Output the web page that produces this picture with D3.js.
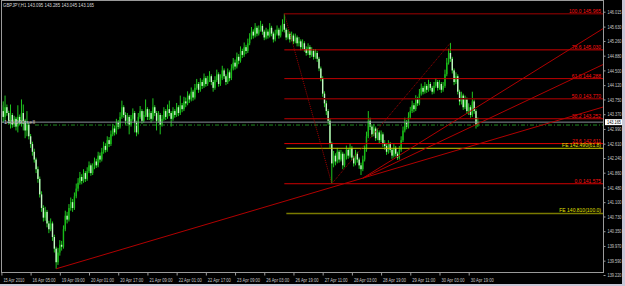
<!DOCTYPE html>
<html>
<head>
<meta charset="utf-8">
<script src="https://cdn.jsdelivr.net/npm/d3@7"></script>
<style>
  html, body { margin: 0; padding: 0; background: #000; }
  svg { display: block; }
  text { font-family: "Liberation Sans", Arial, sans-serif; }
</style>
</head>
<body>
<div id="chart"></div>
<script>
// GBPJPY H1 bars, 15 Apr 13:00 .. 30 Apr (bar index 0..261)
const opens = [
  143.60,143.45,143.30,143.55,143.40,143.20,143.35,143.10,143.25,143.05,
  143.30,143.15,143.40,143.20,142.95,143.10,142.80,142.60,142.40,142.20,
  141.95,141.70,141.30,140.95,140.70,140.85,140.55,140.40,140.55,140.20,
  139.90,139.55,139.80,140.00,139.95,140.40,140.75,140.65,140.95,141.10,
  140.95,141.25,141.45,141.60,141.75,141.65,141.85,141.70,141.90,142.05,
  141.85,142.00,142.15,142.05,142.30,142.20,142.40,142.55,142.45,142.70,
  142.60,142.85,143.00,142.90,143.15,143.05,143.30,143.55,143.35,143.20,
  143.30,143.10,143.25,143.40,143.15,142.90,143.30,143.45,143.20,143.35,
  143.50,143.30,143.40,143.25,143.55,143.40,143.20,143.35,143.10,143.25,
  143.45,143.30,143.50,143.40,143.25,143.45,143.35,143.55,143.40,143.60,
  143.50,143.70,143.65,143.85,143.75,143.95,143.80,144.05,144.15,144.00,
  144.20,144.10,144.30,144.15,144.25,144.35,144.20,144.05,144.25,144.40,
  144.15,144.30,144.50,144.35,144.20,144.45,144.30,144.55,144.70,144.60,
  144.85,144.75,145.00,144.90,145.10,145.00,145.20,145.35,145.50,145.40,
  145.60,145.45,145.55,145.65,145.50,145.35,145.50,145.40,145.60,145.45,
  145.30,145.45,145.55,145.40,145.55,145.70,145.55,145.35,145.45,145.30,
  145.40,145.25,145.35,145.20,145.25,145.10,145.20,145.05,144.95,145.10,
  144.90,145.00,144.85,144.95,144.80,144.55,144.30,143.90,143.65,143.45,
  143.20,142.60,142.10,142.30,142.15,142.40,142.20,142.35,142.05,142.25,
  142.45,142.30,142.50,142.25,142.10,142.35,142.20,142.05,141.95,142.20,
  142.45,142.80,143.20,143.05,142.85,143.00,142.75,142.90,142.70,142.85,
  142.60,142.55,142.40,142.60,142.45,142.30,142.50,142.35,142.25,142.45,
  142.70,142.95,143.15,143.05,143.30,143.45,143.60,143.50,143.75,143.65,
  143.90,144.05,143.95,144.10,144.00,144.15,144.05,143.95,144.10,144.20,
  144.05,144.15,144.00,144.10,144.40,144.70,144.95,144.80,144.50,144.20,
  144.35,143.95,143.70,143.85,143.55,143.75,143.45,143.55,143.35,143.70,
  143.45,143.095
];
const highs = [
  143.95,143.70,143.85,143.62,143.46,143.62,143.40,143.33,143.30,143.60,
  143.36,143.75,143.62,143.25,143.45,143.14,142.86,142.66,142.48,142.25,
  142.02,141.76,141.38,141.02,140.98,140.90,140.62,140.68,140.60,140.26,
  139.95,139.92,140.12,140.10,140.50,140.88,140.85,141.05,141.22,141.18,
  141.35,141.58,141.72,141.88,141.82,141.95,141.90,142.00,142.15,142.10,
  142.10,142.25,142.22,142.40,142.38,142.50,142.66,142.62,142.80,142.78,
  142.95,143.12,143.08,143.25,143.22,143.42,143.72,143.60,143.42,143.40,
  143.35,143.35,143.52,143.45,143.20,143.40,143.58,143.50,143.45,143.75,
  143.55,143.50,143.45,143.78,143.60,143.45,143.45,143.40,143.35,143.55,
  143.50,143.62,143.72,143.45,143.55,143.50,143.66,143.60,143.85,143.66,
  143.82,143.80,143.96,143.90,144.06,144.00,144.15,144.28,144.20,144.30,
  144.26,144.42,144.35,144.36,144.48,144.40,144.25,144.35,144.52,144.45,
  144.40,144.62,144.55,144.40,144.55,144.50,144.66,144.82,144.78,144.96,
  144.92,145.12,145.06,145.22,145.16,145.32,145.46,145.62,145.56,145.72,
  145.65,145.66,145.78,145.70,145.55,145.60,145.56,145.72,145.65,145.50,
  145.55,145.66,145.60,145.66,145.82,145.965,145.60,145.55,145.50,145.50,
  145.45,145.45,145.40,145.36,145.30,145.30,145.25,145.12,145.20,145.15,
  145.10,145.05,145.05,145.00,144.85,144.60,144.35,143.96,143.72,143.50,
  143.25,142.66,142.42,142.36,142.50,142.45,142.45,142.40,142.35,142.56,
  142.50,142.62,142.55,142.30,142.45,142.40,142.25,142.12,142.30,142.56,
  142.92,143.45,143.28,143.10,143.12,143.05,143.00,142.95,142.95,142.90,
  142.70,142.60,142.70,142.65,142.50,142.60,142.55,142.40,142.55,142.80,
  143.05,143.28,143.22,143.42,143.56,143.72,143.66,143.86,143.82,144.02,
  144.16,144.10,144.20,144.15,144.26,144.20,144.10,144.20,144.30,144.25,
  144.25,144.20,144.20,144.52,144.82,145.06,145.21,144.85,144.55,144.45,
  144.40,144.00,143.95,143.90,143.85,143.80,143.65,143.60,143.95,143.75,
  143.50,143.285
];
const lows = [
  143.30,143.15,143.20,143.33,143.10,143.00,143.02,143.04,142.95,142.90,
  143.08,143.05,142.95,142.75,142.80,142.72,142.50,142.30,142.12,141.85,
  141.60,141.22,140.85,140.60,140.62,140.45,140.30,140.35,140.10,139.80,
  139.38,139.48,139.72,139.85,139.90,140.35,140.55,140.60,140.88,140.85,
  140.90,141.20,141.38,141.55,141.56,141.60,141.62,141.65,141.85,141.78,
  141.80,141.95,141.98,142.00,142.12,142.15,142.35,142.38,142.40,142.52,
  142.55,142.80,142.82,142.85,142.98,143.00,143.25,143.28,143.10,143.12,
  142.85,143.05,143.20,142.90,142.80,142.85,143.25,143.12,143.15,143.30,
  143.22,143.22,143.15,143.20,143.32,142.95,143.15,142.85,143.05,143.20,
  143.22,143.25,143.32,143.05,143.20,143.28,143.30,143.32,143.35,143.42,
  143.45,143.55,143.60,143.66,143.70,143.72,143.75,144.00,143.92,143.95,
  144.02,144.05,144.08,144.10,144.20,144.12,143.95,144.00,144.20,144.08,
  144.10,144.25,144.28,144.12,144.15,144.22,144.25,144.50,144.52,144.55,
  144.66,144.70,144.82,144.85,144.92,144.95,145.15,145.30,145.32,145.35,
  145.38,145.40,145.50,145.42,145.28,145.30,145.32,145.35,145.38,145.22,
  145.25,145.40,145.32,145.35,145.50,145.48,145.28,145.30,145.22,145.25,
  145.18,145.20,145.12,145.12,145.02,145.05,144.98,144.88,144.90,144.82,
  144.85,144.78,144.80,144.72,144.48,144.22,143.82,143.55,143.35,143.10,
  142.50,141.575,142.00,142.05,142.10,142.12,142.15,141.95,142.00,142.20,
  142.22,142.25,142.18,142.02,142.05,142.12,141.96,141.80,141.90,142.15,
  142.40,142.75,142.96,142.78,142.80,142.68,142.70,142.62,142.65,142.52,
  142.45,142.32,142.35,142.38,142.22,142.25,142.28,142.19,142.20,142.40,
  142.65,142.90,142.98,143.00,143.25,143.40,143.42,143.45,143.58,143.60,
  143.85,143.88,143.90,143.92,143.95,143.98,143.88,143.90,144.05,143.98,
  144.00,143.92,143.95,144.05,144.35,144.65,144.72,144.42,144.12,144.15,
  143.88,143.60,143.62,143.48,143.50,143.38,143.35,143.28,143.30,143.38,
  143.00,143.045
];
const closes = [
  143.45,143.30,143.55,143.40,143.20,143.35,143.10,143.25,143.05,143.30,
  143.15,143.40,143.20,142.95,143.10,142.80,142.60,142.40,142.20,141.95,
  141.70,141.30,140.95,140.70,140.85,140.55,140.40,140.55,140.20,139.90,
  139.55,139.80,140.00,139.95,140.40,140.75,140.65,140.95,141.10,140.95,
  141.25,141.45,141.60,141.75,141.65,141.85,141.70,141.90,142.05,141.85,
  142.00,142.15,142.05,142.30,142.20,142.40,142.55,142.45,142.70,142.60,
  142.85,143.00,142.90,143.15,143.05,143.30,143.55,143.35,143.20,143.30,
  143.10,143.25,143.40,143.15,142.90,143.30,143.45,143.20,143.35,143.50,
  143.30,143.40,143.25,143.55,143.40,143.20,143.35,143.10,143.25,143.45,
  143.30,143.50,143.40,143.25,143.45,143.35,143.55,143.40,143.60,143.50,
  143.70,143.65,143.85,143.75,143.95,143.80,144.05,144.15,144.00,144.20,
  144.10,144.30,144.15,144.25,144.35,144.20,144.05,144.25,144.40,144.15,
  144.30,144.50,144.35,144.20,144.45,144.30,144.55,144.70,144.60,144.85,
  144.75,145.00,144.90,145.10,145.00,145.20,145.35,145.50,145.40,145.60,
  145.45,145.55,145.65,145.50,145.35,145.50,145.40,145.60,145.45,145.30,
  145.45,145.55,145.40,145.55,145.70,145.55,145.35,145.45,145.30,145.40,
  145.25,145.35,145.20,145.25,145.10,145.20,145.05,144.95,145.10,144.90,
  145.00,144.85,144.95,144.80,144.55,144.30,143.90,143.65,143.45,143.20,
  142.60,142.10,142.30,142.15,142.40,142.20,142.35,142.05,142.25,142.45,
  142.30,142.50,142.25,142.10,142.35,142.20,142.05,141.95,142.20,142.45,
  142.80,143.20,143.05,142.85,143.00,142.75,142.90,142.70,142.85,142.60,
  142.55,142.40,142.60,142.45,142.30,142.50,142.35,142.25,142.45,142.70,
  142.95,143.15,143.05,143.30,143.45,143.60,143.50,143.75,143.65,143.90,
  144.05,143.95,144.10,144.00,144.15,144.05,143.95,144.10,144.20,144.05,
  144.15,144.00,144.10,144.40,144.70,144.95,144.80,144.50,144.20,144.35,
  143.95,143.70,143.85,143.55,143.75,143.45,143.55,143.35,143.70,143.45,
  143.095,143.165
];

// axis labels
const priceTicks = [146.015, 145.630, 145.260, 144.880, 144.500, 144.120, 143.750, 143.370,
  142.990, 142.610, 142.240, 141.860, 141.480, 141.100, 140.730, 140.350, 139.970, 139.590, 139.220];
const timeLabels = ["15 Apr 2010", "16 Apr 05:00", "19 Apr 09:00", "20 Apr 01:00", "20 Apr 17:00",
  "21 Apr 09:00", "22 Apr 01:00", "22 Apr 17:00", "23 Apr 09:00", "26 Apr 03:00", "26 Apr 19:00",
  "27 Apr 11:00", "28 Apr 03:00", "28 Apr 19:00", "29 Apr 11:00", "30 Apr 03:00", "30 Apr 19:00"];
const timeBars = [0, 16, 32, 48, 64, 80, 96, 112, 128, 144, 160, 176, 192, 208, 224, 240, 256];

// fibo retracement (high bar 155 -> low bar 181)
const fibLevels = ["100.0", "78.6", "61.8", "50.0", "38.2", "23.6", "0.0"];
const fibPrices = [145.965, 145.030, 144.288, 143.770, 143.252, 142.611, 141.575];
const fibStart = 155;
// fibo expansion
const feLabels = ["FE 142.490(61.8)", "FE 140.810(100.0)"];
const fePrices = [142.490, 140.810];

// trend lines: [bar0, price0, bar1, price1]
const trendLines = [
  [30, 139.38, 330, 143.56],
  [198, 141.72, 330, 145.59],
  [198, 141.72, 330, 144.66]
];
const dottedLines = [
  [155, 145.965, 181, 141.575],
  [181, 141.575, 246, 145.21]
];

const title = "GBPJPY,H1  143.095 143.285 143.045 143.165";
const bidPrice = 143.165;
const orderPrice = 143.09;
const orderLabel = "143.090 sell";

const W = 625, H = 286;
const plot = { left: 1.5, top: 0.5, right: 603.5, bottom: 272.5 };

const svg = d3.select("#chart").append("svg")
  .attr("width", W).attr("height", H)
  .style("background", "#000");

const x = d3.scaleLinear().domain([0, 256]).range([1.4, 468.7]);
const y = d3.scaleLinear().domain([139.22, 146.015]).range([275, 11.7]);

svg.append("clipPath").attr("id", "plotClip").append("rect")
  .attr("x", plot.left).attr("y", plot.top)
  .attr("width", plot.right - plot.left).attr("height", plot.bottom - plot.top);

const g = svg.append("g").attr("clip-path", "url(#plotClip)");

// candles
const bars = d3.range(closes.length);
g.selectAll(".wick").data(bars).join("line")
  .attr("x1", i => x(i)).attr("x2", i => x(i))
  .attr("y1", i => y(highs[i])).attr("y2", i => y(lows[i]))
  .attr("stroke", "#22dc22").attr("stroke-width", 0.9);

g.selectAll(".body").data(bars).join("rect")
  .attr("x", i => x(i) - 0.7)
  .attr("width", 1.4)
  .attr("y", i => y(Math.max(opens[i], closes[i])))
  .attr("height", i => Math.max(0.6, Math.abs(y(opens[i]) - y(closes[i]))))
  .attr("fill", i => closes[i] >= opens[i] ? "#18bc18" : "#c6f7c6");

// bid line and order line
g.append("line")
  .attr("x1", plot.left).attr("x2", plot.right)
  .attr("y1", y(bidPrice)).attr("y2", y(bidPrice))
  .attr("stroke", "#8a8f99").attr("stroke-width", 1);

g.append("line")
  .attr("x1", 35).attr("x2", plot.right)
  .attr("y1", y(orderPrice)).attr("y2", y(orderPrice))
  .attr("stroke", "#1f8a1f").attr("stroke-width", 1)
  .attr("stroke-dasharray", "4,2,1,2");

g.append("text")
  .attr("x", 4).attr("y", y(bidPrice) + 1.5)
  .attr("font-size", 5).attr("fill", "#c8c8c8")
  .attr("textLength", 31).attr("lengthAdjust", "spacingAndGlyphs")
  .text(orderLabel);

// fibo levels
const fibColors = ["#6a0000", "#d00000", "#c00000", "#7a0000", "#c00000", "#e00000", "#d00000"];
const fibWidths = [1.5, 1, 1, 1.5, 1, 1, 1];
g.selectAll(".fib").data(fibPrices).join("line")
  .attr("x1", x(fibStart)).attr("x2", plot.right)
  .attr("y1", d => y(d)).attr("y2", d => y(d))
  .attr("stroke", (d, i) => fibColors[i]).attr("stroke-width", (d, i) => fibWidths[i]);

g.selectAll(".fibLabel").data(fibPrices).join("text")
  .attr("x", 601).attr("y", d => y(d) - 1)
  .attr("text-anchor", "end").attr("font-size", 5).attr("fill", "#ff1010")
  .text((d, i) => fibLevels[i] + " " + d.toFixed(3));

const feColors = ["#c8c800", "#7a7a00"];
g.selectAll(".fe").data(fePrices).join("line")
  .attr("x1", x(fibStart) + 2).attr("x2", plot.right)
  .attr("y1", d => y(d)).attr("y2", d => y(d))
  .attr("stroke", (d, i) => feColors[i]).attr("stroke-width", (d, i) => i ? 1.5 : 1);

g.selectAll(".feLabel").data(fePrices).join("text")
  .attr("x", 601).attr("y", d => y(d) - 1)
  .attr("text-anchor", "end").attr("font-size", 5).attr("fill", "#e0e000")
  .text((d, i) => feLabels[i]);

// trend lines
g.selectAll(".trend").data(trendLines).join("line")
  .attr("x1", d => x(d[0])).attr("y1", d => y(d[1]))
  .attr("x2", d => x(d[2])).attr("y2", d => y(d[3]))
  .attr("stroke", "#b00000").attr("stroke-width", 1);

g.selectAll(".dotted").data(dottedLines).join("line")
  .attr("x1", d => x(d[0])).attr("y1", d => y(d[1]))
  .attr("x2", d => x(d[2])).attr("y2", d => y(d[3]))
  .attr("stroke", "#a00000").attr("stroke-width", 1)
  .attr("stroke-dasharray", "1,1");

// frame
svg.append("rect")
  .attr("x", plot.left).attr("y", plot.top)
  .attr("width", plot.right - plot.left).attr("height", plot.bottom - plot.top)
  .attr("fill", "none").attr("stroke", "#9a9a9a").attr("stroke-width", 1);

// title
svg.append("text")
  .attr("x", 3).attr("y", 7)
  .attr("font-size", 5).attr("fill", "#d8d8d8")
  .attr("textLength", 91).attr("lengthAdjust", "spacingAndGlyphs")
  .text(title);

// price axis
const yAxis = svg.append("g")
  .attr("transform", `translate(${plot.right},0)`)
  .call(d3.axisRight(y).tickValues(priceTicks).tickSize(2).tickPadding(2)
    .tickFormat(d3.format(".3f")));
yAxis.select(".domain").remove();
yAxis.selectAll("line").attr("stroke", "#9a9a9a");
yAxis.selectAll("text").attr("fill", "#c8c8c8").attr("font-size", 5)
  .attr("textLength", 14).attr("lengthAdjust", "spacingAndGlyphs")
  .attr("font-family", "Liberation Sans, Arial, sans-serif");

// current price box
svg.append("rect")
  .attr("x", 605).attr("y", y(bidPrice) - 3)
  .attr("width", 17).attr("height", 6).attr("fill", "#ffffff");
svg.append("text")
  .attr("x", 607).attr("y", y(bidPrice) + 1.8)
  .attr("font-size", 5).attr("fill", "#000")
  .attr("textLength", 14).attr("lengthAdjust", "spacingAndGlyphs")
  .text(bidPrice.toFixed(3));

// time axis
const xAxis = svg.append("g")
  .attr("transform", `translate(0,${plot.bottom})`)
  .call(d3.axisBottom(x).tickValues(timeBars).tickSize(3).tickPadding(3)
    .tickFormat((d, i) => timeLabels[i]));
xAxis.select(".domain").remove();
xAxis.selectAll("line").attr("stroke", "#9a9a9a");
xAxis.selectAll("text").attr("fill", "#c8c8c8").attr("font-size", 5)
  .attr("text-anchor", "start").attr("dx", 1.5)
  .attr("textLength", (d, i) => i ? 23 : 21).attr("lengthAdjust", "spacingAndGlyphs")
  .attr("font-family", "Liberation Sans, Arial, sans-serif");

// window border
svg.append("rect").attr("x", 622).attr("y", 0).attr("width", 3).attr("height", H).attr("fill", "#c9c6d6");
svg.append("rect").attr("x", 0).attr("y", 284).attr("width", W).attr("height", 2).attr("fill", "#c9c6d6");
</script>
</body>
</html>
